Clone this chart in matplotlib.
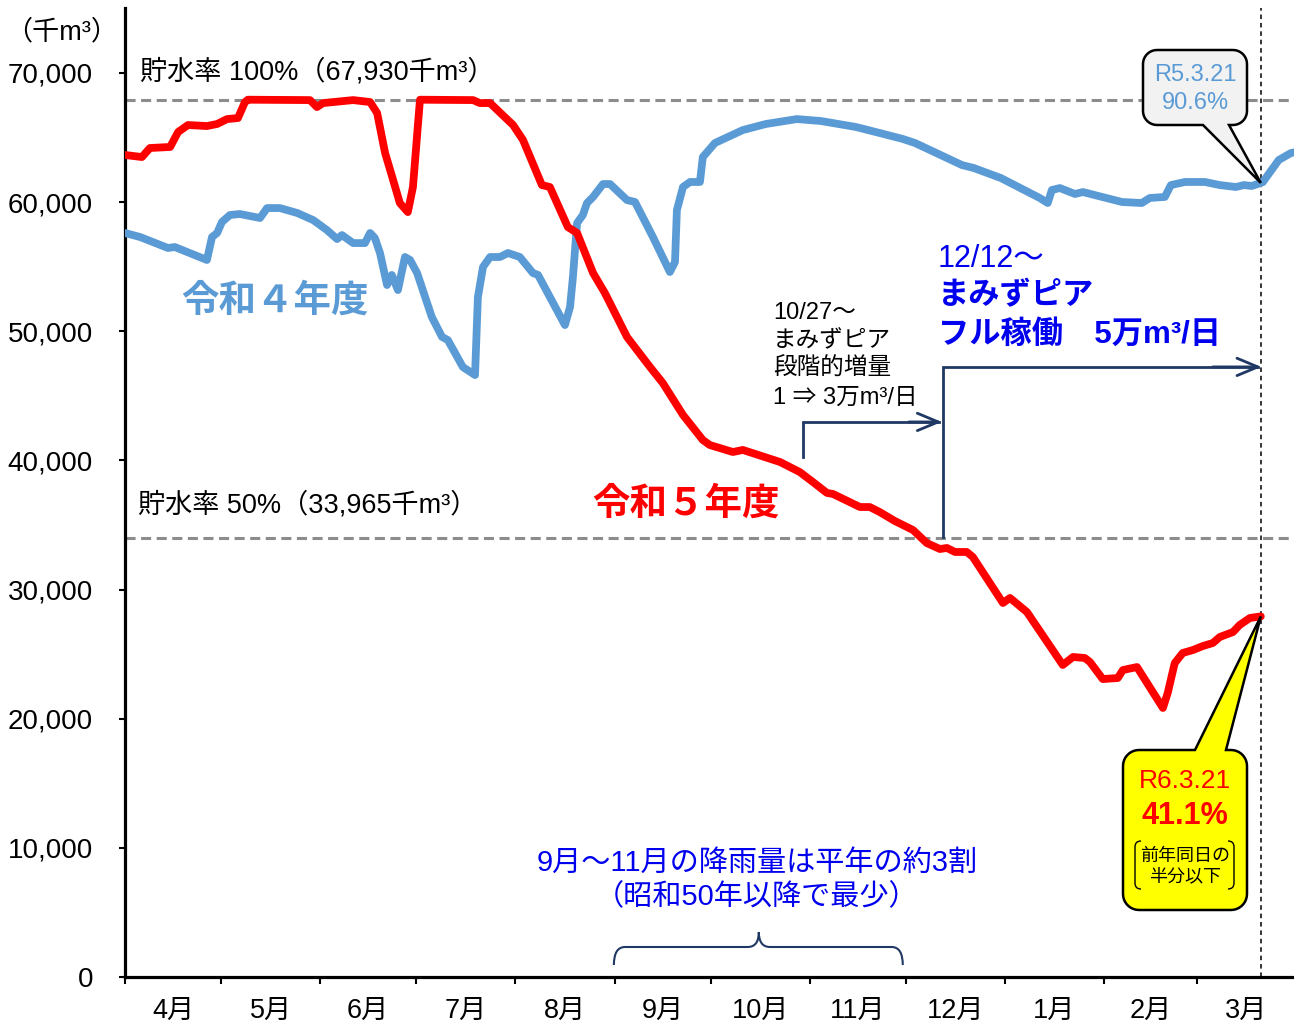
import matplotlib
matplotlib.use('Agg')
import matplotlib.pyplot as plt
from matplotlib.patches import Polygon, PathPatch
from matplotlib.path import Path
import numpy as np

plt.rcParams['font.family'] = ['Liberation Sans', 'Noto Sans CJK JP', 'DejaVu Sans']

# ---------------- data ----------------
month_labels = ['4月', '5月', '6月', '7月', '8月', '9月', '10月', '11月', '12月', '1月', '2月', '3月']
month_starts = [0, 30, 61, 91, 122, 153, 183, 214, 244, 275, 306, 335, 366]
y_ticks = [0, 10000, 20000, 30000, 40000, 50000, 60000, 70000]
cap_100 = 67930
cap_50 = 33965
day_0321 = 355

# R5 (令和5年度) storage, days from Apr 1
r5_day = [0, 5.3, 7.8, 14.1, 16.6, 19.7, 25.6, 28.8, 31.9, 35.3, 37.5, 38.4, 57.8, 60.0, 61.9,
          71.3, 76.6, 78.8, 81.3, 83.8, 85.9, 88.4, 90.0, 91.6, 92.2, 108.8, 110.9, 114.1, 121.3,
          124.4, 130.3, 132.8, 138.4, 141.3, 146.3, 150.0, 156.9, 164.1, 168.1, 174.4, 180.6,
          182.8, 190.0, 193.1, 204.7, 210.9, 215.0, 219.4, 221.3, 229.7, 232.8, 235.9, 240.6,
          246.3, 250.6, 254.7, 256.9, 259.4, 263.1, 265.0, 274.4, 276.6, 281.9, 293.1, 296.3,
          300.0, 301.6, 305.6, 310.3, 311.9, 316.3, 324.4, 325.9, 328.1, 330.6, 333.8, 336.9,
          340.0, 342.2, 346.3, 348.4, 351.6, 355]
r5_val = [63650, 63490, 64190, 64270, 65430, 65970, 65890, 66050, 66430, 66510, 67750, 67930, 67900,
          67360, 67670, 67900, 67750, 66900, 63800, 61710, 59930, 59230, 61170, 66120, 67930, 67900,
          67670, 67670, 65970, 64810, 61320, 61170, 58070, 57610, 54510, 52960, 49560, 47230, 45990,
          43520, 41580, 41190, 40650, 40810, 39880, 39100, 38330, 37480, 37400, 36390, 36390, 36000,
          35310, 34610, 33600, 33140, 33220, 32910, 32910, 32520, 28960, 29350, 28260, 24160, 24780,
          24700, 24390, 23070, 23150, 23770, 24000, 20830, 21990, 24310, 25090, 25320, 25630, 25860,
          26330, 26710, 27260, 27800, 27920]

# R4 (令和4年度) storage
r4_day = [0, 4.7, 13.4, 15.6, 25.6, 27.2, 28.8, 30.3, 32.8, 35.9, 42.2, 44.4, 48.4, 53.8, 58.8, 63.1,
          66.3, 67.8, 71.3, 75.0, 76.6, 78.1, 79.7, 81.9, 83.4, 85.3, 87.5, 89.1, 91.3, 95.9, 99.1,
          100.9, 105.6, 109.4, 110.3, 111.9, 114.1, 117.2, 119.7, 123.4, 127.5, 129.1, 133.8, 137.5,
          139.1, 140.0, 141.3, 143.1, 144.4, 146.3, 149.4, 151.6, 156.9, 159.4, 165.0, 170.3, 171.9,
          172.5, 174.4, 176.6, 179.7, 180.6, 184.4, 193.1, 200.3, 210.0, 217.5, 228.4, 235.9, 243.1,
          246.9, 261.6, 265.3, 273.8, 285.9, 288.4, 289.7, 292.2, 296.9, 299.4, 311.6, 317.8, 320.3,
          325.0, 326.9, 331.3, 337.5, 342.2, 347.2, 349.7, 352.2, 355.6, 360.6, 364.4, 366]
r4_val = [57610, 57300, 56450, 56520, 55520, 57300, 57610, 58460, 59000, 59080, 58770, 59540, 59540,
          59160, 58610, 57840, 57140, 57450, 56830, 56830, 57610, 57220, 56060, 53580, 54360, 53190,
          55750, 55520, 54510, 51100, 49560, 49320, 47230, 46610, 52650, 54980, 55750, 55750, 56060,
          55750, 54510, 54360, 52190, 50480, 51880, 54200, 58380, 59000, 59930, 60400, 61400, 61400,
          60160, 60010, 57300, 54590, 55360, 59390, 61170, 61560, 61560, 63490, 64580, 65580, 66050,
          66430, 66280, 65820, 65350, 64890, 64580, 62870, 62640, 61860, 60320, 59930, 60940, 61090,
          60630, 60780, 60010, 59930, 60320, 60400, 61320, 61560, 61560, 61320, 61170, 61320, 61250,
          61540, 63260, 63800, 63880]

# ---------------- figure ----------------
W, H = 1294, 1024
fig = plt.figure(figsize=(W / 100, H / 100), dpi=100)
ax = fig.add_axes([125 / W, 47 / H, 1171 / W, 968.6 / H])
ax.set_xlim(0, 366)
ax.set_ylim(0, 75000)

for s in ['top', 'right']:
    ax.spines[s].set_visible(False)
for s in ['left', 'bottom']:
    ax.spines[s].set_linewidth(2.3)
    ax.spines[s].set_color('black')

ax.set_yticks(y_ticks)
ax.set_yticklabels([f'{v:,}' for v in y_ticks])
ax.tick_params(axis='y', direction='out', length=4.5, width=1.5, pad=18.5, labelsize=20)

ax.set_xticks(month_starts)
ax.set_xticklabels([''] * len(month_starts))
ax.tick_params(axis='x', which='major', direction='out', length=5, width=1.5)
mids = [(a + b) / 2 for a, b in zip(month_starts[:-1], month_starts[1:])]
ax.set_xticks(mids, minor=True)
ax.set_xticklabels(month_labels, minor=True)
ax.tick_params(axis='x', which='minor', length=0, pad=15, labelsize=19.5)

# reference lines
ax.axhline(cap_100, color='#8C8C8C', lw=2.2, ls=(0, (3.3, 1.8)), zorder=1)
ax.axhline(cap_50, color='#8C8C8C', lw=2.2, ls=(0, (3.3, 1.8)), zorder=1)
ax.axvline(day_0321, color='black', lw=1.1, ls=(0, (3, 2.5)), zorder=1)

# series
ax.plot(r4_day, r4_val, color='#5B9BD5', lw=5.6, solid_joinstyle='round', solid_capstyle='round', zorder=3)
ax.plot(r5_day, r5_val, color='#FF0000', lw=5.6, solid_joinstyle='round', solid_capstyle='round', zorder=4)

# texts in axes
ax.text(4.7, 70070, '貯水率 100%（67,930千m³）', fontsize=19.5, va='center', ha='left')
ax.text(4.1, 36550, '貯水率 50%（33,965千m³）', fontsize=19.5, va='center', ha='left')
ax.text(17.5, 52270, '令和４年度', fontsize=27, fontweight='bold', color='#5B9BD5', va='center', ha='left')
ax.text(146.0, 36550, '令和５年度', fontsize=27, fontweight='bold', color='#FF0000', va='center', ha='left')

black_lines = ['10/27～', 'まみずピア', '段階的増量', '1 ⇒ 3万m³/日']
black_y = [51420, 49250, 47080, 44840]
for t, yv in zip(black_lines, black_y):
    ax.text(202.5, yv, t, fontsize=17, va='center', ha='left')

blue_txt = '#0000EE'
ax.text(254, 55600, '12/12～', fontsize=22, va='center', ha='left', color=blue_txt)
ax.text(254, 52730, 'まみずピア', fontsize=22.5, fontweight='bold', va='center', ha='left', color=blue_txt)
ax.text(254, 49710, 'フル稼働　5万m³/日', fontsize=22.5, fontweight='bold', va='center', ha='left', color=blue_txt)

ax.text(197.5, 8830, '9月～11月の降雨量は平年の約3割', fontsize=21, color=blue_txt, ha='center', va='center')
ax.text(197.5, 6190, '（昭和50年以降で最少）', fontsize=21, color=blue_txt, ha='center', va='center')

# arrows
navy = '#1F3864'
ax.plot([212, 212, 254.5], [40270, 42980, 42980], color=navy, lw=2, solid_joinstyle='miter', zorder=5)
ax.annotate('', xy=(255.3, 42980), xytext=(245, 42980),
            arrowprops=dict(arrowstyle='->,head_length=0.6,head_width=0.25', color=navy, lw=2,
                            mutation_scale=25, shrinkA=0, shrinkB=0), zorder=5)
ax.plot([255.6, 255.6, 354], [34070, 47240, 47240], color=navy, lw=2, solid_joinstyle='miter', zorder=5)
ax.annotate('', xy=(355.2, 47240), xytext=(340, 47240),
            arrowprops=dict(arrowstyle='->,head_length=0.6,head_width=0.25', color=navy, lw=2,
                            mutation_scale=25, shrinkA=0, shrinkB=0), zorder=5)

# brace
bl, br, bc = 152.8, 243.1, 198.1
yb, ym, yt = 929, 2323, 3484
verts = [(bl, yb), (bl, ym), (bl + 3.5, ym), (bc - 3.5, ym), (bc, ym), (bc, yt),
         (bc, ym), (bc + 3.5, ym), (br - 3.5, ym), (br, ym), (br, yb)]
codes = [Path.MOVETO, Path.CURVE3, Path.CURVE3, Path.LINETO, Path.CURVE3, Path.CURVE3,
         Path.CURVE3, Path.CURVE3, Path.LINETO, Path.CURVE3, Path.CURVE3]
ax.add_patch(PathPatch(Path(verts, codes), fill=False, edgecolor=navy, lw=1.5, zorder=5))

# ---------------- callouts ----------------
fig.text(62 / W, 1 - 32 / H, '（千m³）', fontsize=19.5, ha='center', va='center')


def data_px(d, v):
    dx, dy = ax.transData.transform((d, v))
    return (dx, H - dy)


def bubble(x0, y0, x1, y1, r, edge, b0, b1, tip, n=10):
    t = np.linspace(0, np.pi / 2, n)
    pts = []
    cx, cy = x0 + r, y0 + r
    pts += list(zip(cx - r * np.cos(t), cy - r * np.sin(t)))
    if edge == 'top':
        pts += [(b0, y0), tip, (b1, y0)]
    cx, cy = x1 - r, y0 + r
    pts += list(zip(cx + r * np.sin(t), cy - r * np.cos(t)))
    cx, cy = x1 - r, y1 - r
    pts += list(zip(cx + r * np.cos(t), cy + r * np.sin(t)))
    if edge == 'bottom':
        pts += [(b1, y1), tip, (b0, y1)]
    cx, cy = x0 + r, y1 - r
    pts += list(zip(cx - r * np.sin(t), cy + r * np.cos(t)))
    return [(x / W, 1 - y / H) for x, y in pts]


tip_r4 = data_px(day_0321, float(np.interp(day_0321, r4_day, r4_val)))
tip_r5 = data_px(r5_day[-1], r5_val[-1])

p1 = Polygon(bubble(1143, 50, 1247, 125, 14, 'bottom', 1203, 1229, tip_r4), closed=True,
             transform=fig.transFigure, facecolor='#F2F2F2', edgecolor='black', lw=1.8, zorder=5)
fig.add_artist(p1)
fig.text(1195 / W, 1 - 75 / H, 'R5.3.21', fontsize=17, color='#5B9BD5', ha='center', va='center', zorder=6)
fig.text(1195 / W, 1 - 103 / H, '90.6%', fontsize=17, color='#5B9BD5', ha='center', va='center', zorder=6)

p2 = Polygon(bubble(1123, 750, 1247, 910, 16, 'top', 1195, 1226, tip_r5), closed=True,
             transform=fig.transFigure, facecolor='#FFFF00', edgecolor='black', lw=1.8, zorder=5)
fig.add_artist(p2)
fig.text(1185 / W, 1 - 781 / H, 'R6.3.21', fontsize=19, color='#FF0000', ha='center', va='center', zorder=6)
fig.text(1185 / W, 1 - 816 / H, '41.1%', fontsize=22, fontweight='bold', color='#FF0000', ha='center', va='center', zorder=6)
fig.text(1185 / W, 1 - 856 / H, '前年同日の', fontsize=13, color='black', ha='center', va='center', zorder=6)
fig.text(1185 / W, 1 - 877 / H, '半分以下', fontsize=13, color='black', ha='center', va='center', zorder=6)


def bracket(xo, xi, yt_, yb_, c=6):
    v = [(xi, yt_), (xo, yt_), (xo, yt_ + c), (xo, yb_ - c), (xo, yb_), (xi, yb_)]
    v = [(x / W, 1 - y / H) for x, y in v]
    cd = [Path.MOVETO, Path.CURVE3, Path.CURVE3, Path.LINETO, Path.CURVE3, Path.CURVE3]
    return PathPatch(Path(v, cd), fill=False, edgecolor='black', lw=1.0, transform=fig.transFigure, zorder=6)


fig.add_artist(bracket(1135, 1141, 841, 889))
fig.add_artist(bracket(1234, 1228, 841, 889))

fig.savefig('out.png', dpi=100)
